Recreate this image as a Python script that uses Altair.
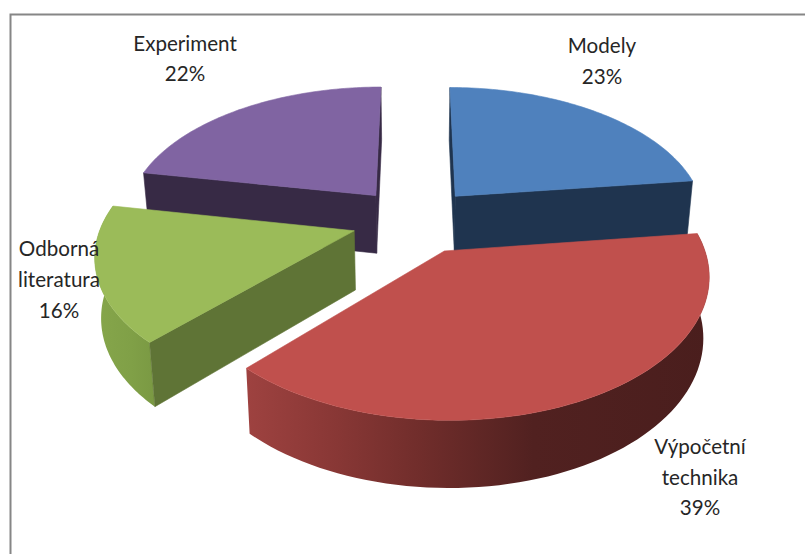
import math
import altair as alt

# Shares of each activity, clockwise from twelve o'clock
names = ["Modely", "Výpočetní technika", "Odborná literatura", "Experiment"]
shares = [23, 39, 16, 22]
label_lines = [["Modely"], ["Výpočetní", "technika"], ["Odborná", "literatura"], ["Experiment"]]

# Anchor of each label's first line and the spacing between its lines
label_anchor = [(602, 47), (700, 448), (59, 250), (185, 45)]
line_gap = [31, 30.5, 31, 30]

top_colors = ["#4F81BD", "#C0504D", "#9BBB59", "#8064A2"]
cut_colors = ["#1F344F", "#4A1E1D", "#5F7436", "#372A45"]

# Camera used for the tilted disc
CX, CY = 414.8, 220.4
RX, RY = 251.6, 132.5
DEPTH = 0.155
EXPLODE = 0.25
BASE_X = 0.98
BASE_Y = (1.045, 48.8)


def top_point(theta, mid):
    """Point on the upper face at clockwise angle theta, on a slice pulled out along mid."""
    px = EXPLODE * math.sin(mid) + theta[0]
    py = EXPLODE * math.cos(mid) + theta[1]
    w = 1 + DEPTH * py
    return (CX + RX * px / w, CY - RY * py / w)


def base_point(p):
    return (CX + BASE_X * (p[0] - CX), BASE_Y[0] * p[1] + BASE_Y[1])


def rim(start, end, mid, steps=72):
    out = []
    for i in range(steps + 1):
        a = start + (end - start) * i / steps
        out.append(top_point((math.sin(a), math.cos(a)), mid))
    return out


def polygon(points):
    ring = [[round(x, 2), round(y, 2)] for x, y in points]
    ring.append(ring[0])
    return {"type": "Feature", "geometry": {"type": "Polygon", "coordinates": [ring]}, "properties": {}}


def fill_layer(features, fill):
    kwargs = {"fill": fill, "filled": True}
    if isinstance(fill, str):
        kwargs.update(stroke=fill, strokeWidth=0.6)
    else:
        kwargs.update(strokeWidth=0)
    return (
        alt.Chart(alt.Data(values=features))
        .mark_geoshape(**kwargs)
        .project(type="identity", scale=1, translate=[0, 0])
    )


def gradient(stops):
    return {
        "gradient": "linear",
        "x1": 0, "x2": 1, "y1": 0, "y2": 0,
        "stops": [{"offset": o, "color": c} for o, c in stops],
    }


# Slice geometry derived from the shares
slices = []
running = 0.0
for share in shares:
    start = running / 100 * 2 * math.pi
    running += share
    end = running / 100 * 2 * math.pi
    mid = (start + end) / 2
    arc = rim(start, end, mid)
    apex = top_point((0.0, 0.0), mid)
    slices.append({"start": start, "end": end, "mid": mid, "arc": arc, "apex": apex})


def cut_wall(s, edge):
    rim_pt = s["arc"][0] if edge == "start" else s["arc"][-1]
    return polygon([s["apex"], rim_pt, base_point(rim_pt), base_point(s["apex"])])


def outer_wall(s):
    return polygon(s["arc"] + [base_point(p) for p in reversed(s["arc"])])


def top_face(s):
    return polygon([s["apex"]] + s["arc"])


layers = []

# Back slices first: Experiment, then Modely
for i in (3, 0):
    s = slices[i]
    layers.append(fill_layer([cut_wall(s, "start"), cut_wall(s, "end")], cut_colors[i]))
    layers.append(fill_layer([top_face(s)], top_colors[i]))

# Odborná literatura
s = slices[2]
layers.append(fill_layer([outer_wall(s)], gradient([(0, "#86A64B"), (0.6, "#80A047"), (1, "#7A9943")])))
layers.append(fill_layer([cut_wall(s, "start")], cut_colors[2]))
layers.append(fill_layer([top_face(s)], top_colors[2]))

# Výpočetní technika sits in front of everything
s = slices[1]
layers.append(fill_layer(
    [outer_wall(s)],
    gradient([(0, "#9E4240"), (0.18, "#8A3836"), (0.38, "#702D2B"), (0.62, "#512120"), (1, "#4A1E1D")]),
))
layers.append(fill_layer([top_face(s)], top_colors[1]))

# Chart frame: only the top and left edges are drawn
frame = {
    "type": "Feature",
    "geometry": {"type": "LineString", "coordinates": [[810, 14.5], [10.5, 14.5], [10.5, 560]]},
    "properties": {},
}
layers.append(
    alt.Chart(alt.Data(values=[frame]))
    .mark_geoshape(filled=False, stroke="#868686", strokeWidth=2)
    .project(type="identity", scale=1, translate=[0, 0])
)

# Category and percentage labels, one row per text line
label_rows = []
for lines, share, (lx, ly), gap in zip(label_lines, shares, label_anchor, line_gap):
    for n, text in enumerate(lines + [f"{share}%"]):
        label_rows.append({"lon": lx, "lat": ly + n * gap, "text": text})

layers.append(
    alt.Chart(alt.Data(values=label_rows))
    .mark_text(font="Lato", fontSize=20.6, color="#262626", align="center", baseline="middle")
    .encode(longitude="lon:Q", latitude="lat:Q", text="text:N")
    .project(type="identity", scale=1, translate=[0, 0])
)

chart = (
    alt.layer(*layers)
    .properties(width=805, height=554, padding=0, autosize="none", background="white")
    .configure_view(stroke=None)
)

chart.save("out.html", embed_options={"renderer": "svg", "actions": False})
